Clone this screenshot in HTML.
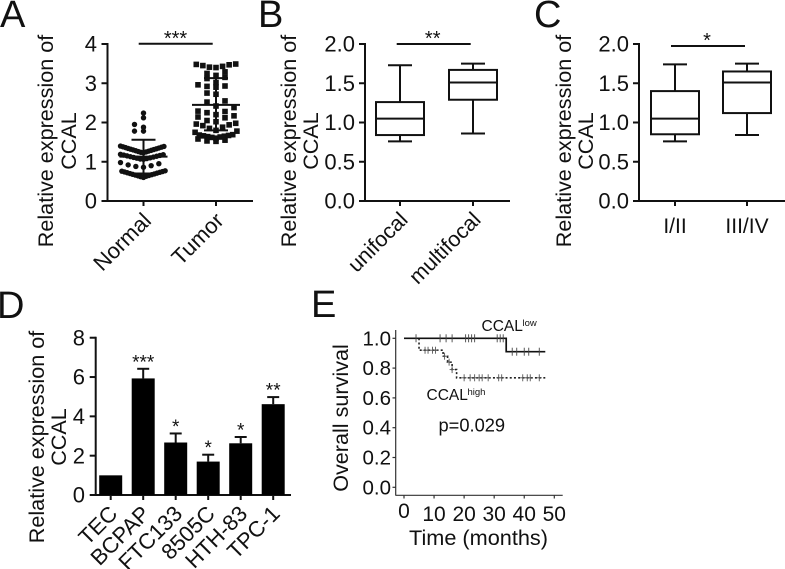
<!DOCTYPE html>
<html lang="en">
<head>
<meta charset="utf-8">
<title>CCAL expression figure</title>
<style>
html,body{margin:0;padding:0;background:#fff;}
svg{display:block;}
text{font-family:"Liberation Sans",Arial,sans-serif;fill:#111;}
</style>
</head>
<body>
<svg id="fig" xmlns="http://www.w3.org/2000/svg" width="785" height="569" viewBox="0 0 785 569"></svg>
<script>
// Panel A
const scatterCategories = ['Normal', 'Tumor'];
const normalValues = [2.24,2.12,1.95,1.88,1.78,1.78,
  1.40,1.39,1.38,1.37,1.36,1.35,1.34,1.33,1.32,1.31,1.30,1.29,1.28,1.27,1.26,1.25,1.24,1.23,
  1.19,1.18,1.17,1.16,1.15,1.14,1.13,1.12,1.11,1.10,1.09,1.08,1.07,1.06,
  0.98,0.95,0.92,0.90,0.88,0.86,
  0.77,0.76,0.75,0.74,0.73,0.72,0.71,0.70,0.69,0.68,0.67,0.66,0.65,0.64,0.63,0.62,0.61,0.60];
const tumorValues = [3.49,3.48,3.47,3.45,3.43,3.41,3.40,
  3.29,3.25,3.20,3.15,3.12,
  3.02,2.96,2.93,2.92,2.90,
  2.75,2.72,2.55,2.52,2.42,2.38,
  2.29,2.28,2.25,2.20,2.17,2.14,2.12,
  2.05,2.02,1.98,1.96,1.94,1.92,
  1.88,1.85,1.80,1.78,1.75,
  1.69,1.68,1.67,1.66,1.65,1.64,1.63,1.62,1.60,1.58,1.55,1.53,1.52];
const scatterSummary = [[1.13,1.56,0.70],[2.45,3.13,1.80]];
const scatterTicks = ['0','1','2','3','4'];

// Panels B and C: low whisker, Q1, median, Q3, high whisker
const boxCategoriesB = ['unifocal','multifocal'];
const boxValuesB = [[0.76,0.84,1.05,1.26,1.73],[0.86,1.29,1.51,1.67,1.75]];
const boxCategoriesC = ['I/II','III/IV'];
const boxValuesC = [[0.76,0.85,1.05,1.40,1.74],[0.84,1.12,1.51,1.65,1.75]];
const boxTicks = ['0.0','0.5','1.0','1.5','2.0'];

// Panel D
const barCategories = ['TEC','BCPAP','FTC133','8505C','HTH-83','TPC-1'];
const barValues = [1,5.93,2.67,1.70,2.63,4.62];
const barErrors = [0,0.49,0.46,0.35,0.32,0.36];
const barStars = ['','***','*','*','*','**'];
const barTicks = ['0','2','4','6','8'];

// Panel E
const lowSurvivalSteps = [[0,1],[34,1],[34,0.91],[47,0.91]];
const highSurvivalSteps = [[0,1],[5,1],[5,0.92],[13,0.92],[13,0.88],[14.5,0.88],[14.5,0.84],[16,0.84],[16,0.79],[17.5,0.79],[17.5,0.735],[47,0.735]];
const lowCensorTimes = [4,12,14,16,20.5,21.5,22.5,23.5,31,32,33,36,37.5,40,41.5,45];
const highCensorTimes = [7,8,9.5,10.5,13.5,15,16,20,22,23.5,25,26,28,31.5,32.5,39.5,41,42,45];
const survivalYTicks = ['0.0','0.2','0.4','0.6','0.8','1.0'];
const survivalXTicks = ['0','10','20','30','40','50'];

const svg = document.getElementById('fig');
const NS = 'http://www.w3.org/2000/svg';
function mk(tag, attrs, name, parent) {
  const el = document.createElementNS(NS, tag);
  for (const k in attrs) el.setAttribute(k, attrs[k]);
  
  
  (parent || svg).appendChild(el);
  return el;
}
function line(x1, y1, x2, y2, w, name, parent, extra) {
  return mk('line', Object.assign({x1, y1, x2, y2, stroke: '#111', 'stroke-width': w}, extra || {}), name, parent);
}
function text(str, x, y, size, anchor, name, parent, extra) {
  const t = mk('text', Object.assign({x, y, 'font-size': size, 'text-anchor': anchor || 'start'}, extra || {}), name, parent);
  t.textContent = str;
  return t;
}
function yTitle(lines, xs, cy, size, name) {
  const g = mk('g', {}, name);
  lines.forEach(function (s, i) {
    text(s, 0, 0, size, 'middle', name + '-line', g, {transform: 'translate(' + xs[i] + ',' + cy + ') rotate(-90)'});
  });
}
function yAxis(x, yFn, labels, values, labelX, size, w, xEnd, y0, name) {
  const g = mk('g', {}, name);
  line(x, yFn(values[values.length - 1]) - 1, x, y0 + 1, w, name + '-line', g);
  values.forEach(function (v, i) {
    line(x - 6, yFn(v), x, yFn(v), w, name + '-tick', g);
    text(labels[i], labelX, yFn(v) + size * 0.35, size, 'end', name + '-label', g);
  });
  return g;
}

/* Panel letters */
[['A',0,27],['B',258,27],['C',534,27],['D',-3,318],['E',311,317]].forEach(function (p) {
  text(p[0], p[1], p[2], 38, 'start', 'panel-label-' + p[0].toLowerCase());
});

/* Panel A */
(function () {
  const g = mk('g', {}, 'panel-a-scatter');
  const y = function (v) { return 201 - v * 39.25; };
  const cx = [143.5, 216];
  yTitle(['Relative expression of', 'CCAL'], [53, 76], 141, 21.6, 'panel-a-y-title');
  yAxis(107.5, y, scatterTicks, [0,1,2,3,4], 97, 22, 2, 253, 201, 'panel-a-y-axis');
  line(104, 201, 253, 201, 2, 'panel-a-x-axis', g);
  function swarm(values, center, shape, name) {
    const bins = {};
    values.forEach(function (v) {
      const b = Math.floor(v / 0.2);
      (bins[b] = bins[b] || []).push(v);
    });
    Object.keys(bins).forEach(function (b) {
      const arr = bins[b].slice().sort(function (a, c) { return a - c; });
      const step = Math.min(9, 46 / arr.length);
      arr.forEach(function (v, i) {
        const side = i % 2 === 0 ? 1 : -1;
        const off = side * Math.ceil(i / 2) * step;
        if (shape === 'circle') {
          mk('circle', {cx: center + off, cy: y(v), r: 2.7, fill: '#111'}, name, g);
        } else {
          mk('rect', {x: center + off - 2.8, y: y(v) - 2.8, width: 5.6, height: 5.6, fill: '#111'}, name, g);
        }
      });
    });
  }
  swarm(normalValues, cx[0], 'circle', 'normal-point');
  swarm(tumorValues, cx[1], 'square', 'tumor-point');
  scatterSummary.forEach(function (s, i) {
    line(cx[i] - 24, y(s[0]), cx[i] + 24, y(s[0]), 2, 'mean-line', g);
    line(cx[i], y(s[1]), cx[i], y(s[2]), 2, 'sd-whisker', g);
    line(cx[i] - 12, y(s[1]), cx[i] + 12, y(s[1]), 2, 'sd-cap', g);
    line(cx[i] - 12, y(s[2]), cx[i] + 12, y(s[2]), 2, 'sd-cap', g);
    line(cx[i], 201, cx[i], 206, 2, 'x-tick', g);
    text(scatterCategories[i], 0, 0, 22, 'end', 'x-label', g, {transform: 'translate(' + (cx[i] + 9) + ',222) rotate(-45)'});
  });
  line(138.7, 43.7, 212.7, 43.7, 2, 'significance-bar', g);
  text('***', 175.5, 45, 20, 'middle', 'significance-stars', g);
})();

/* Panels B and C */
function boxPanel(axisX, cx, xEnd, cats, vals, barX1, barX2, barY, stars, starY, rotated, name, titleX, tickX) {
  const g = mk('g', {}, name);
  const y = function (v) { return 201 - v * 78.5; };
  yTitle(['Relative expression of', 'CCAL'], titleX, 141, 21.6, name + '-y-title');
  yAxis(axisX, y, boxTicks, [0,0.5,1,1.5,2], tickX, 22, 2, xEnd, 201, name + '-y-axis');
  line(axisX - 4, 201, xEnd, 201, 2, name + '-x-axis', g);
  vals.forEach(function (b, i) {
    const c = cx[i];
    line(c, y(b[0]), c, y(b[1]), 2, 'lower-whisker', g);
    line(c, y(b[3]), c, y(b[4]), 2, 'upper-whisker', g);
    line(c - 12, y(b[0]), c + 12, y(b[0]), 2, 'lower-cap', g);
    line(c - 12, y(b[4]), c + 12, y(b[4]), 2, 'upper-cap', g);
    mk('rect', {x: c - 24, y: y(b[3]), width: 48, height: y(b[1]) - y(b[3]), fill: '#fff', stroke: '#111', 'stroke-width': 2}, 'box', g);
    line(c - 24, y(b[2]), c + 24, y(b[2]), 2, 'median-line', g);
    line(c, 201, c, 206, 2, 'x-tick', g);
    if (rotated) {
      text(cats[i], 0, 0, 21.5, 'end', 'x-label', g, {transform: 'translate(' + (c + 9) + ',221) rotate(-45)'});
    } else {
      text(cats[i], c, 233, 21, 'middle', 'x-label', g);
    }
  });
  line(barX1, barY, barX2, barY, 2, 'significance-bar', g);
  text(stars, (barX1 + barX2) / 2 - 1, starY, 20, 'middle', 'significance-stars', g);
}
boxPanel(365, [400, 473], 510, boxCategoriesB, boxValuesB, 396.7, 470.7, 44, '**', 45, true, 'panel-b-box', [296, 318], 355);
boxPanel(639, [675, 747], 785, boxCategoriesC, boxValuesC, 671, 745, 46, '*', 47, false, 'panel-c-box', [571, 593], 629);

/* Panel D */
(function () {
  const g = mk('g', {}, 'panel-d-bars');
  const y = function (v) { return 495 - v * 19.66; };
  const x = function (i) { return 110.7 + i * 32.5; };
  yTitle(['Relative expression of', 'CCAL'], [44, 66], 437, 21.6, 'panel-d-y-title');
  yAxis(95.7, y, barTicks, [0,2,4,6,8], 85, 22, 2, 291, 495, 'panel-d-y-axis');
  line(92, 495, 291, 495, 2, 'panel-d-x-axis', g);
  barCategories.forEach(function (c, i) {
    const top = y(barValues[i]);
    if (barErrors[i] > 0) {
      const et = y(barValues[i] + barErrors[i]);
      line(x(i), et, x(i), top, 2, 'error-bar', g);
      line(x(i) - 6, et, x(i) + 6, et, 2, 'error-cap', g);
      text(barStars[i], x(i), et - 0.5, 19, 'middle', 'bar-stars', g);
    }
    mk('rect', {x: x(i) - 11.5, y: top, width: 23, height: 495 - top, fill: '#000'}, 'bar-' + c.toLowerCase(), g);
    line(x(i), 495, x(i), 500, 2, 'x-tick', g);
    text(c, 0, 0, 22, 'end', 'x-label', g, {transform: 'translate(' + (x(i) + 8) + ',515) rotate(-45)'});
  });
})();

/* Panel E */
(function () {
  const g = mk('g', {}, 'panel-e-survival');
  const y = function (v) { return 487.3 - v * 149; };
  const x = function (t) { return 404 + t * 3.006; };
  const axisStroke = {stroke: '#333'};
  line(395.7, 330, 395.7, 495.5, 1.2, 'panel-e-y-axis', g, axisStroke);
  line(395.5, 495.3, 562.7, 495.3, 1.2, 'panel-e-x-axis', g, axisStroke);
  survivalYTicks.forEach(function (s) {
    const v = parseFloat(s);
    line(392.5, y(v), 395.7, y(v), 1.2, 'y-tick', g, axisStroke);
    text(s, 391, y(v) + 7, 20.5, 'end', 'y-label', g);
  });
  survivalXTicks.forEach(function (s) {
    const v = parseFloat(s);
    line(x(v), 495.3, x(v), 498.5, 1.2, 'x-tick', g, axisStroke);
    text(s, x(v), v === 0 ? 518 : 521, 21, 'middle', 'x-label', g);
  });
  function path(steps) {
    return steps.map(function (p, i) { return (i ? 'L' : 'M') + x(p[0]) + ' ' + y(p[1]); }).join(' ');
  }
  function atTime(steps, t) {
    let v = steps[0][1];
    steps.forEach(function (p) { if (p[0] <= t) v = p[1]; });
    return v;
  }
  mk('path', {d: path(highSurvivalSteps.slice(1)), fill: 'none', stroke: '#222', 'stroke-width': 1.6, 'stroke-dasharray': '2 2.2'}, 'high-ccal-curve', g);
  mk('path', {d: path(lowSurvivalSteps), fill: 'none', stroke: '#111', 'stroke-width': 1.7}, 'low-ccal-curve', g);
  lowCensorTimes.forEach(function (t) {
    const v = y(atTime(lowSurvivalSteps, t));
    line(x(t), v - 4, x(t), v + 4, 0.9, 'low-censor-mark', g, {stroke: '#444'});
  });
  highCensorTimes.forEach(function (t) {
    const v = y(atTime(highSurvivalSteps, t));
    line(x(t), v - 3.5, x(t), v + 3.5, 0.9, 'high-censor-mark', g, {stroke: '#555'});
    line(x(t) - 2.5, v, x(t) + 2.5, v, 0.9, 'high-censor-mark', g, {stroke: '#555'});
  });
  text('CCAL', 481.5, 331, 15.5, 'start', 'low-label', g);
  text('low', 522.5, 326, 9.5, 'start', 'low-label-superscript', g);
  text('CCAL', 426.5, 400, 15.5, 'start', 'high-label', g);
  text('high', 467.5, 395, 9.5, 'start', 'high-label-superscript', g);
  text('p=0.029', 438.5, 431.5, 18.3, 'start', 'p-value', g);
  text('Time (months)', 478.5, 545, 21.7, 'middle', 'x-axis-title', g);
  text('Overall survival', 0, 0, 21.6, 'middle', 'y-axis-title', g, {transform: 'translate(348,418) rotate(-90)'});
})();
</script>
</body>
</html>
